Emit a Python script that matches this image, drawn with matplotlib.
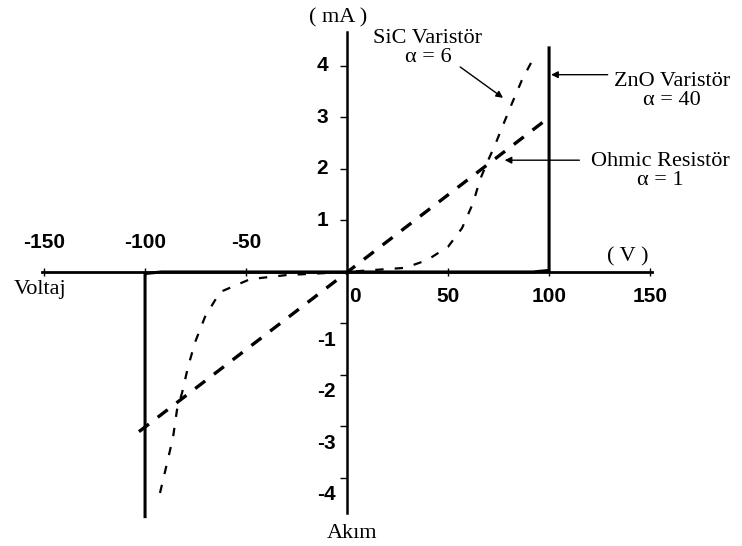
import matplotlib
matplotlib.use('Agg')
import matplotlib.pyplot as plt

plt.rcParams['lines.scale_dashes'] = False

# Ohmic resistor (alpha = 1)
ohm_v = [-103, 100]
ohm_i = [-3.1, 3.0]

# SiC varistor (alpha = 6)
sic_v = [-92.6, -89.1, -86.1, -84.2, -81.7, -78.7, -75.2, -70.3, -62.9, -48, -30, -15, 0,
         13.9, 28.7, 39.6, 50, 56.9, 62.4, 65.8, 69.3, 73.3, 77.2, 81.7, 86.6, 93.1]
sic_i = [-4.29, -3.71, -3.2, -2.68, -2.35, -1.84, -1.36, -0.87, -0.39, -0.14, -0.06, -0.03, 0,
         0.04, 0.08, 0.23, 0.49, 0.85, 1.34, 1.79, 2.12, 2.47, 2.85, 3.28, 3.73, 4.21]

# ZnO varistor (alpha = 40)
zno_v = [-100, -100, -92, 92, 100, 100]
zno_i = [-4.75, -0.03, 0, 0, 0.03, 4.35]

x_ticks = [-150, -100, -50, 50, 100, 150]
y_ticks = [-4, -3, -2, -1, 1, 2, 3, 4]

serif = 'Liberation Serif'
sans = 'Liberation Sans'

fig = plt.figure(figsize=(7.42, 5.46), dpi=100)
ax = fig.add_axes([0, 0, 1, 1])
ax.set_xlim(-171.8, 195.5)
ax.set_ylim(-5.32, 5.28)

for s in ['top', 'right']:
    ax.spines[s].set_visible(False)
ax.spines['left'].set_position('zero')
ax.spines['bottom'].set_position('zero')
ax.spines['left'].set_bounds(-4.68, 4.66)
ax.spines['bottom'].set_bounds(-151, 151)
ax.spines['left'].set_linewidth(1.8)
ax.spines['bottom'].set_linewidth(2.0)

ax.set_xticks(x_ticks)
ax.set_yticks(y_ticks)
ax.set_xticklabels([])
ax.set_yticklabels([])
ax.tick_params(axis='x', direction='inout', length=6, width=1.0)
ax.tick_params(axis='y', direction='out', length=5, width=1.0)

# curves
ax.plot(zno_v, zno_i, color='black', lw=2.2, solid_joinstyle='miter')
ax.plot(ohm_v, ohm_i, color='black', lw=2.4, dashes=(9, 8))
ax.plot(sic_v, sic_i, color='black', lw=1.6, dashes=(6, 8))

# tick labels
tk = dict(fontsize=15, fontweight='bold', family=sans, ha='center', va='center',
          textcoords='offset points')
for v in x_ticks:
    if v < 0:
        ax.annotate(str(v), (v, 0), xytext=(0, 21), **tk)
    else:
        ax.annotate(str(v), (v, 0), xytext=(0, -18), **tk)
ax.annotate('0', (0, 0), xytext=(6, -18), **tk)
for i in y_ticks:
    if i > 0:
        ax.annotate(str(i), (0, i), xytext=(-18, 0), **tk)
    else:
        ax.annotate(str(i), (0, i), xytext=(-15, -12), **tk)

# axis titles
tx = dict(fontsize=16, family=serif, ha='center', va='center')
ax.text(-4.5, 4.93, '( mA )', **tx)
ax.text(139, 0.29, '( V )', **tx)
ax.text(-152, -0.35, 'Voltaj', **tx)
ax.text(2.5, -5.07, 'Akım', **tx)

# labels with arrows
arr = dict(arrowstyle='-|>', color='black', lw=1.0, mutation_scale=10, shrinkA=0, shrinkB=0)
ax.text(40, 4.35, 'SiC Varistör\nα = 6', linespacing=1.05, **tx)
ax.annotate('', xy=(77.2, 3.38), xytext=(56, 3.98), arrowprops=arr)
ax.text(161, 3.51, 'ZnO Varistör\nα = 40', linespacing=1.0, **tx)
ax.annotate('', xy=(101, 3.83), xytext=(129, 3.83), arrowprops=arr)
ax.text(155, 1.96, 'Ohmic Resistör\nα = 1', linespacing=1.05, **tx)
ax.annotate('', xy=(78, 2.17), xytext=(115, 2.17), arrowprops=arr)

fig.savefig('out.png', dpi=100)
